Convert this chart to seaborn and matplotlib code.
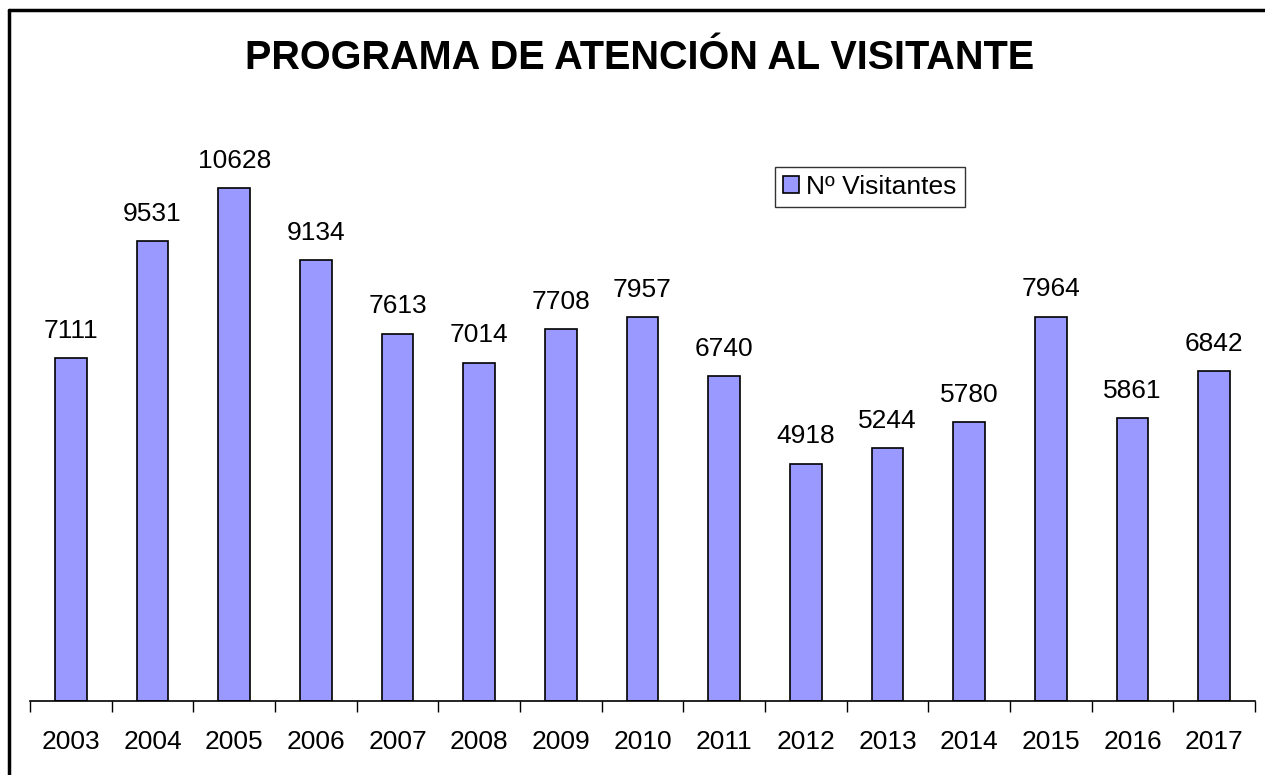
import matplotlib
matplotlib.use("Agg")
import matplotlib.pyplot as plt
import seaborn as sns
import pandas as pd
from matplotlib.lines import Line2D

years = ["2003", "2004", "2005", "2006", "2007", "2008", "2009", "2010",
         "2011", "2012", "2013", "2014", "2015", "2016", "2017"]
visitors = [7111, 9531, 10628, 9134, 7613, 7014, 7708, 7957,
            6740, 4918, 5244, 5780, 7964, 5861, 6842]
series_name = "Nº Visitantes"
title = "PROGRAMA DE ATENCIÓN AL VISITANTE"

sns.set_style("white")
plt.rcParams['font.family'] = ['Liberation Sans', 'DejaVu Sans']
plt.rcParams['text.color'] = 'black'
plt.rcParams['xtick.color'] = 'black'
plt.rcParams['xtick.labelcolor'] = 'black'
plt.rcParams['xtick.bottom'] = True

df = pd.DataFrame({"year": years, "value": visitors, "series": series_name})

W, H = 1265, 775
fig = plt.figure(figsize=(W / 100, H / 100), dpi=100)
ax = fig.add_axes([30 / W, (H - 701) / H, 1225 / W, (701 - 122) / H])

sns.barplot(data=df, x="year", y="value", hue="series", palette=["#9999FF"],
            edgecolor="black", linewidth=1.2, width=0.39, ax=ax, legend=True,
            saturation=1)

ax.set_xlim(-0.5, len(years) - 0.5)
ax.set_ylim(0, 12000)
for s in ["left", "top", "right"]:
    ax.spines[s].set_visible(False)
ax.spines["bottom"].set_color("black")
ax.spines["bottom"].set_linewidth(1.2)
ax.set_yticks([])
ax.set_xlabel("")
ax.set_ylabel("")
ax.tick_params(axis="x", which="major", length=0, pad=21, labelsize=19,
               labelcolor="black")
ax.set_xticks([i - 0.5 for i in range(len(years) + 1)], minor=True)
ax.tick_params(axis="x", which="minor", bottom=True, length=8, width=1,
               color="black", direction="out")

for i, v in enumerate(visitors):
    ax.annotate(str(v), (i, v), xytext=(0, 11), textcoords="offset points",
                ha="center", va="bottom", fontsize=19, color="black")

leg = ax.legend(loc="upper left", bbox_to_anchor=(0.608, 0.922), fontsize=19,
                frameon=True, fancybox=False, edgecolor="black",
                handlelength=0.6, handleheight=0.6, handletextpad=0.3,
                borderpad=0.3, borderaxespad=0)
leg.get_frame().set_linewidth(1.0)
for t in leg.get_texts():
    t.set_color("black")

fig.text(640 / W, 1 - 58 / H, title, ha="center", va="center",
         fontsize=28.5, fontweight="bold", color="black")

# outer chart border (top and left edges visible)
fig.add_artist(Line2D([9 / W, 1], [1 - 10 / H, 1 - 10 / H], color="black", lw=2.5,
                      transform=fig.transFigure))
fig.add_artist(Line2D([9 / W, 9 / W], [0, 1 - 10 / H], color="black", lw=2.5,
                      transform=fig.transFigure))

fig.savefig("out.png", dpi=100)
